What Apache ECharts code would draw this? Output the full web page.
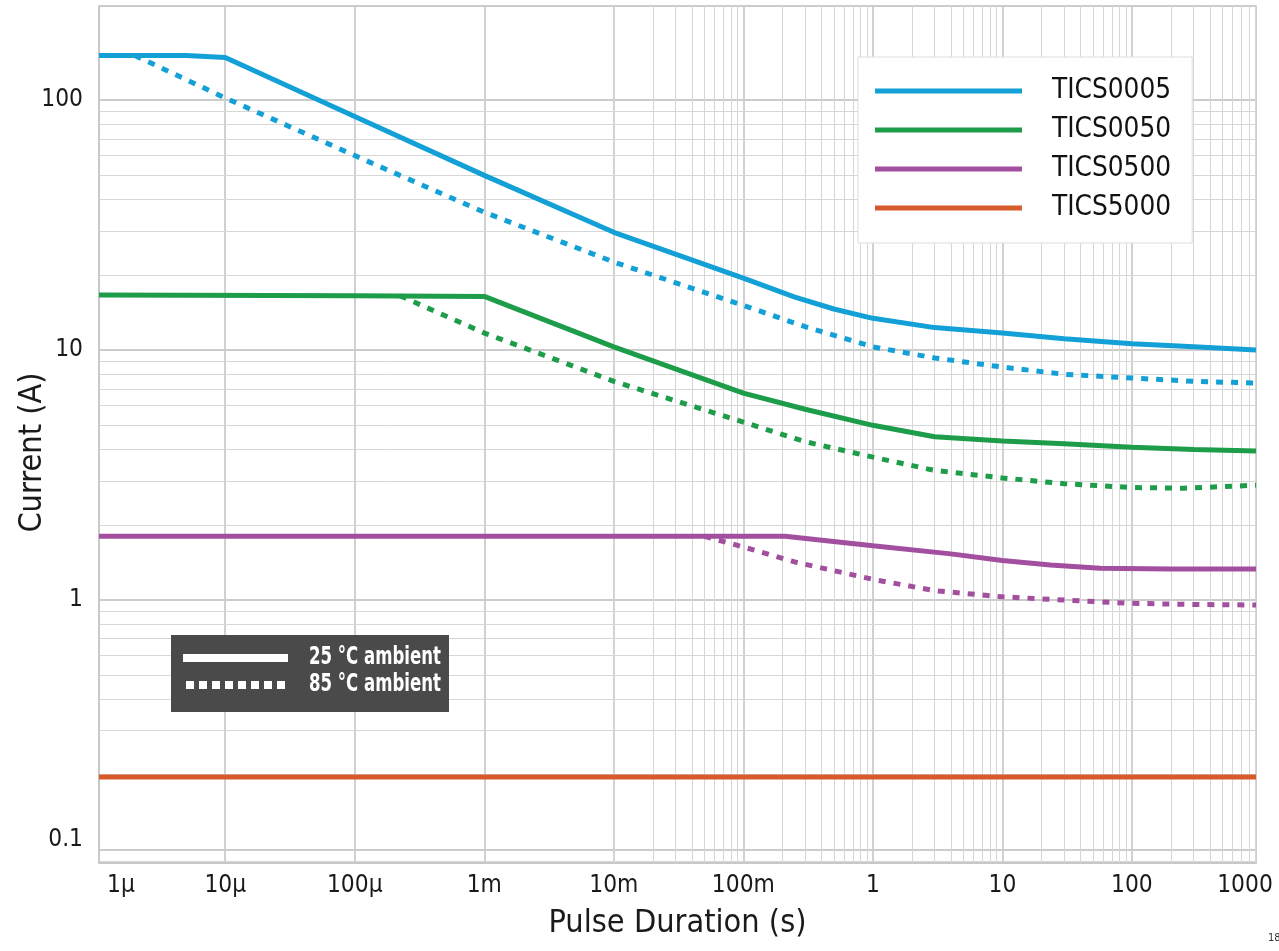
<!DOCTYPE html>
<html>
<head>
<meta charset="utf-8">
<script src="https://cdn.jsdelivr.net/npm/echarts@6/dist/echarts.min.js"></script>
<style>
html,body{margin:0;padding:0;background:#fff;}
#chart{width:1279px;height:951px;}
</style>
</head>
<body>
<div id="chart"></div>
<script>
// ---- data (pulse duration in s, current in A) ----
const xTickLabels = ['1µ', '10µ', '100µ', '1m', '10m', '100m', '1', '10', '100', '1000'];
const yTickLabels = ['0.1', '1', '10', '100'];
const seriesNames = ['TICS0005', 'TICS0050', 'TICS0500', 'TICS5000'];
const seriesColors = ['#12a0d7', '#1d9c4a', '#a24f9f', '#d65a2a'];
const tempLabels = ['25 °C ambient', '85 °C ambient'];

const tics0005_25 = [[1.06e-6, 151], [5e-6, 151], [1e-5, 148], [1e-4, 86], [1e-3, 50], [1e-2, 29.6], [0.1, 19.4], [0.25, 16.3], [0.5, 14.6], [1, 13.4], [3, 12.3], [10, 11.7], [30, 11.1], [100, 10.6], [300, 10.3], [908, 10.0]];
const tics0005_85 = [[2e-6, 151], [1e-5, 102], [1e-4, 60], [1e-3, 35.6], [1e-2, 22.5], [0.1, 15.1], [0.3, 12.4], [1, 10.3], [3, 9.3], [10, 8.55], [30, 8.0], [100, 7.73], [300, 7.5], [908, 7.38]];
const tics0050_25 = [[1.06e-6, 16.6], [1e-4, 16.5], [1e-3, 16.4], [1e-2, 10.3], [0.1, 6.73], [0.3, 5.8], [1, 5.0], [3, 4.5], [10, 4.33], [30, 4.22], [100, 4.09], [300, 4.0], [908, 3.95]];
const tics0050_85 = [[2.23e-4, 16.5], [1e-3, 11.7], [1e-2, 7.5], [0.1, 5.15], [0.3, 4.3], [1, 3.73], [3, 3.3], [10, 3.08], [30, 2.92], [100, 2.82], [250, 2.80], [908, 2.88]];
const tics0500_25 = [[1.06e-6, 1.80], [0.21, 1.80], [1, 1.65], [4, 1.53], [10, 1.44], [23.5, 1.38], [57, 1.34], [200, 1.33], [908, 1.33]];
const tics0500_85 = [[0.05, 1.80], [0.1, 1.63], [0.25, 1.42], [0.5, 1.31], [1, 1.21], [3, 1.09], [10, 1.03], [30, 1.0], [100, 0.97], [300, 0.96], [908, 0.955]];
const tics5000_25 = [[1.06e-6, 0.196], [908, 0.196]];

const X_MIN = 1.06e-6, X_MAX = 908;
const Y_MIN = 0.0887, Y_MAX = 238;

// ---- font selection: prefer a narrow face ----
const mctx = document.createElement('canvas').getContext('2d');
function textW(font, s) { mctx.font = font; return mctx.measureText(s).width; }
function hasFont(name) {
  const s = 'TICS0005 Current (A) ambient 100µ';
  return Math.abs(textW('40px "' + name + '", monospace', s) - textW('40px monospace', s)) > 0.5;
}
const narrowCandidates = ['Liberation Sans Narrow', 'Arial Narrow', 'Noto Sans Condensed', 'DejaVu Sans Condensed'];
let narrow = null;
for (const n of narrowCandidates) { if (hasFont(n)) { narrow = n; break; } }
const FONT = narrow ? '"' + narrow + '", "Liberation Sans", sans-serif' : '"Liberation Sans", Arial, sans-serif';
// size fitted partly to the reference text widths
function fitSize(nominal, sample, target, power, weight) {
  const w = textW((weight || '') + ' ' + nominal + 'px ' + FONT, sample);
  return +(nominal * Math.pow(target / w, power)).toFixed(1);
}
const SZ = {
  tick: fitSize(29, '100', 38, 0.65),
  legend: fitSize(31, 'TICS0005', 117, 0.85),
  title: fitSize(37, 'Pulse Duration (s)', 243, 0.7)
};
const legendTextW = textW(SZ.legend + 'px ' + FONT, 'TICS0005');
const legendPadRight = Math.max(4, Math.round(1192 - (858 + 17 + 147 + 5 + 25 + legendTextW)));
const tempScale = 132 / textW('bold 24px ' + FONT, tempLabels[0]);

function minorValues(lo, hi, capHi) {
  const out = [];
  for (let e = Math.floor(Math.log10(lo)); e <= Math.ceil(Math.log10(hi)); e++) {
    for (let m = 2; m <= 9; m++) {
      const v = +(m * Math.pow(10, e)).toPrecision(3);
      if (v > lo && v < hi && v < capHi) out.push(v);
    }
  }
  return out;
}
const xMinor = minorValues(X_MIN, X_MAX, Infinity);
const yMinor = minorValues(Y_MIN, Y_MAX, 100);

function solid(name, data, color) {
  return { name: name, type: 'line', data: data, symbol: 'none', showSymbol: false, z: 3,
    lineStyle: { color: color, width: 5, cap: 'butt' }, itemStyle: { color: color }, emphasis: { disabled: true } };
}
function dotted(name, data, color) {
  return { name: name, type: 'line', data: data, symbol: 'none', showSymbol: false, z: 2,
    lineStyle: { color: color, width: 5, type: [7, 8], cap: 'butt' }, itemStyle: { color: color }, emphasis: { disabled: true } };
}

const chart = echarts.init(document.getElementById('chart'));
chart.setOption({
  animation: false,
  backgroundColor: '#ffffff',
  grid: { left: 99, right: 23, top: 6, bottom: 88, containLabel: false, outerBoundsMode: 'none',
    show: true, borderColor: '#c6c6c6', borderWidth: 1.5, backgroundColor: 'transparent' },
  xAxis: {
    type: 'log', logBase: 10, min: X_MIN, max: X_MAX,
    name: 'Pulse Duration (s)', nameLocation: 'middle', nameGap: 45, nameMoveOverlap: false,
    nameTextStyle: { fontFamily: FONT, fontSize: SZ.title, color: '#1a1a1a' },
    axisLine: { show: true, lineStyle: { color: '#c6c6c6', width: 1.5 } },
    axisTick: { show: false },
    splitLine: { show: true, lineStyle: { color: '#cccccc', width: 1.8 } },
    axisLabel: {
      showMinLabel: true, showMaxLabel: true, margin: 11,
      fontFamily: FONT, fontSize: SZ.tick, color: '#1a1a1a',
      formatter: function (v) {
        const lg = Math.log10(v);
        const k = Math.round(lg);
        const lbl = xTickLabels[k + 6];
        if (lbl === undefined) return '';
        if (Math.abs(lg - k) > 0.005) {
          if (k === -6) return '{first|' + lbl + '}';
          if (k === 3) return '{last|' + lbl + '}';
          return '';
        }
        return lbl;
      },
      rich: {
        first: { fontFamily: FONT, fontSize: SZ.tick, color: '#1a1a1a', padding: [0, 0, 0, 44] },
        last: { fontFamily: FONT, fontSize: SZ.tick, color: '#1a1a1a', padding: [0, 22, 0, 0] }
      }
    }
  },
  yAxis: {
    type: 'log', logBase: 10, min: Y_MIN, max: Y_MAX,
    name: 'Current (A)', nameLocation: 'middle', nameGap: 50, nameRotate: 90, nameMoveOverlap: false,
    nameTextStyle: { fontFamily: FONT, fontSize: SZ.title, color: '#1a1a1a', padding: [0, 36, 0, 0] },
    axisLine: { show: true, lineStyle: { color: '#c6c6c6', width: 1.5 } },
    axisTick: { show: false },
    splitLine: { show: true, lineStyle: { color: '#cccccc', width: 1.8 } },
    axisLabel: {
      showMinLabel: true, showMaxLabel: true, margin: 16,
      fontFamily: FONT, fontSize: SZ.tick, color: '#1a1a1a',
      formatter: function (v) {
        const lg = Math.log10(v);
        const k = Math.round(lg);
        if (Math.abs(lg - k) > 0.005) return '';
        const lbl = yTickLabels[k + 1];
        if (lbl === undefined) return '';
        return k === -1 ? '{low|' + lbl + '}' : lbl;
      },
      rich: {
        low: { fontFamily: FONT, fontSize: SZ.tick, color: '#1a1a1a', padding: [0, 0, 20, 0] }
      }
    }
  },
  legend: {
    data: seriesNames, orient: 'vertical', align: 'left',
    left: 858, top: 57,
    icon: 'rect', itemWidth: 147, itemHeight: 5, itemGap: 7,
    padding: [18, legendPadRight, 19, 17],
    backgroundColor: '#ffffff', borderColor: '#dddddd', borderWidth: 1,
    selectedMode: false,
    textStyle: { fontFamily: FONT, fontSize: SZ.legend, lineHeight: 32, color: '#111111', padding: [0, 0, 0, 25] }
  },
  series: [
    { name: 'minor grid', type: 'line', data: [[X_MIN, Y_MIN]], symbol: 'none', z: 0,
      lineStyle: { opacity: 0 }, silent: true,
      markLine: { z: 1, silent: true, animation: false, symbol: ['none', 'none'], label: { show: false },
        emphasis: { disabled: true },
        lineStyle: { color: '#d6d6d6', width: 1, type: 'solid' },
        data: xMinor.map(v => ({ xAxis: v })).concat(yMinor.map(v => ({ yAxis: v }))) } },
    solid('TICS0005', tics0005_25, seriesColors[0]),
    dotted('TICS0005 85°C', tics0005_85, seriesColors[0]),
    solid('TICS0050', tics0050_25, seriesColors[1]),
    dotted('TICS0050 85°C', tics0050_85, seriesColors[1]),
    solid('TICS0500', tics0500_25, seriesColors[2]),
    dotted('TICS0500 85°C', tics0500_85, seriesColors[2]),
    solid('TICS5000', tics5000_25, seriesColors[3])
  ],
  graphic: [
    { type: 'rect', z: 100, shape: { x: 171, y: 635, width: 278, height: 77 }, style: { fill: '#4a4a4a' } },
    { type: 'line', z: 101, shape: { x1: 183, y1: 658, x2: 288, y2: 658 }, style: { stroke: '#ffffff', lineWidth: 8 } },
    { type: 'line', z: 101, shape: { x1: 186, y1: 685, x2: 288, y2: 685 }, style: { stroke: '#ffffff', lineWidth: 8, lineDash: [8, 5] } },
    { type: 'text', z: 101, x: 309, y: 658, scaleX: tempScale,
      style: { x: 0, y: 0, text: tempLabels[0], fill: '#ffffff', font: 'bold 24px ' + FONT, verticalAlign: 'middle', textVerticalAlign: 'middle' } },
    { type: 'text', z: 101, x: 309, y: 685, scaleX: tempScale,
      style: { x: 0, y: 0, text: tempLabels[1], fill: '#ffffff', font: 'bold 24px ' + FONT, verticalAlign: 'middle', textVerticalAlign: 'middle' } },
    { type: 'text', z: 101, style: { x: 1268, y: 938, text: '18', fill: '#333333', font: '11px ' + FONT, verticalAlign: 'middle', textVerticalAlign: 'middle' } }
  ]
});
</script>
</body>
</html>
